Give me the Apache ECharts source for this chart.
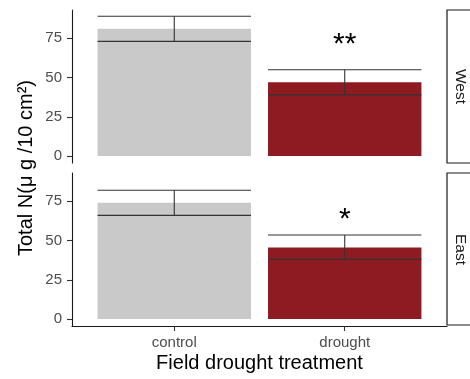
<!DOCTYPE html>
<html><head><meta charset="utf-8">
<script src="https://cdn.jsdelivr.net/npm/echarts@6/dist/echarts.min.js"></script>
<style>html,body{margin:0;padding:0;background:#fff}#c{width:470px;height:379px}</style>
</head><body><div id="c"></div>
<script>
const categories = ['control', 'drought'];
const panels = ['West', 'East'];
const westMean = [81, 47];
const westLow = [73, 39];
const westHigh = [89, 55];
const eastMean = [74, 45.5];
const eastLow = [66, 38];
const eastHigh = [82, 53.5];
const westSig = ['', '**'];
const eastSig = ['', '*'];
const westSigY = [null, 71];
const eastSigY = [null, 63];
const yTicks = [0, 25, 50, 75];
const xTitle = 'Field drought treatment';
const yTitle = 'Total N(\u03bc g /10 cm\u00b2)';
const barColors = ['#c9c9c9', '#8f1b22'];

const FONT = 'Liberation Sans, Arial, sans-serif';
const chart = echarts.init(document.getElementById('c'), null, {renderer: 'canvas'});

const panelData = [
  {mean: westMean, low: westLow, high: westHigh, sig: westSig, sigY: westSigY},
  {mean: eastMean, low: eastLow, high: eastHigh, sig: eastSig, sigY: eastSigY}
];
const catPos = categories.map((c, i) => i + 1);

const grids = [
  {left: 72, right: 23, top: 10, height: 153},
  {left: 72, right: 23, top: 173, height: 153}
];

const xAxes = grids.map((g, i) => ({
  type: 'value', gridIndex: i, min: 0.4, max: 2.6,
  splitLine: {show: false},
  axisLine: {show: i === 1, onZero: false, lineStyle: {color: '#1a1a1a', width: 1.1}},
  axisTick: {show: i === 1, customValues: catPos, length: 5, lineStyle: {color: '#333', width: 1.1}},
  axisLabel: {show: i === 1, customValues: catPos, formatter: v => categories[Math.round(v) - 1],
    color: '#4d4d4d', fontSize: 15, fontFamily: FONT, margin: 9}
}));

const yAxes = grids.map((g, i) => ({
  type: 'value', gridIndex: i, min: -4.4, max: 93,
  splitLine: {show: false},
  axisLine: {show: true, onZero: false, lineStyle: {color: '#1a1a1a', width: 1.1}},
  axisTick: {show: true, customValues: yTicks, length: 5, lineStyle: {color: '#333', width: 1.1}},
  axisLabel: {show: true, customValues: yTicks, color: '#4d4d4d', fontSize: 15, fontFamily: FONT, margin: 10}
}));

const series = [];
panelData.forEach((p, i) => {
  series.push({
    type: 'custom', xAxisIndex: i, yAxisIndex: i,
    data: catPos.map((x, j) => [x, p.mean[j], j]),
    renderItem: (params, api) => {
      const x = api.value(0), y = api.value(1), k = api.value(2);
      const a = api.coord([x - 0.45, 0]);
      const b = api.coord([x + 0.45, y]);
      return {type: 'rect', shape: {x: a[0], y: b[1], width: b[0] - a[0], height: a[1] - b[1]},
        style: {fill: barColors[k]}};
    }
  });
  series.push({
    type: 'custom', xAxisIndex: i, yAxisIndex: i, z: 5,
    data: catPos.map((x, j) => [x, p.low[j], p.high[j]]),
    renderItem: (params, api) => {
      const x = api.value(0), lo = api.value(1), hi = api.value(2);
      const l0 = api.coord([x - 0.45, lo]), l1 = api.coord([x + 0.45, lo]);
      const h0 = api.coord([x - 0.45, hi]), h1 = api.coord([x + 0.45, hi]);
      const c0 = api.coord([x, lo]), c1 = api.coord([x, hi]);
      const st = {stroke: '#333', lineWidth: 1.1};
      return {type: 'group', children: [
        {type: 'line', shape: {x1: l0[0], y1: l0[1], x2: l1[0], y2: l1[1]}, style: st},
        {type: 'line', shape: {x1: h0[0], y1: h0[1], x2: h1[0], y2: h1[1]}, style: st},
        {type: 'line', shape: {x1: c0[0], y1: c0[1], x2: c1[0], y2: c1[1]}, style: st}
      ]};
    }
  });
  series.push({
    type: 'custom', xAxisIndex: i, yAxisIndex: i, z: 6,
    data: catPos.map((x, j) => [x, p.sigY[j] == null ? 0 : p.sigY[j], j]).filter((d) => p.sig[d[2]] !== ''),
    renderItem: (params, api) => {
      const x = api.value(0), y = api.value(1), k = api.value(2);
      const c = api.coord([x, y]);
      return {type: 'text', x: c[0], y: c[1],
        style: {text: p.sig[k], fill: '#000', font: '30px ' + FONT, align: 'center', verticalAlign: 'middle'}};
    }
  });
});

const graphics = [];
grids.forEach((g, i) => {
  graphics.push({type: 'rect', x: 447, y: g.top, shape: {x: 0, y: 0, width: 40, height: i === 1 ? 152 : 153},
    style: {fill: '#fff', stroke: '#1a1a1a', lineWidth: 1.2}, z: 10});
  graphics.push({type: 'text', x: 460, y: g.top + g.height / 2, rotation: -Math.PI / 2,
    style: {text: panels[i], fill: '#1a1a1a', font: '15.5px ' + FONT, align: 'center', verticalAlign: 'middle'}, z: 11});
});
graphics.push({type: 'text', x: 259.5, y: 363,
  style: {text: xTitle, fill: '#000', font: '20px ' + FONT, align: 'center', verticalAlign: 'middle'}});
graphics.push({type: 'text', x: 26, y: 168, rotation: Math.PI / 2,
  style: {text: yTitle, fill: '#000', font: '20px ' + FONT, align: 'center', verticalAlign: 'middle'}});

chart.setOption({
  animation: false,
  backgroundColor: '#fff',
  grid: grids,
  xAxis: xAxes,
  yAxis: yAxes,
  series: series,
  graphic: graphics
});
</script></body></html>
